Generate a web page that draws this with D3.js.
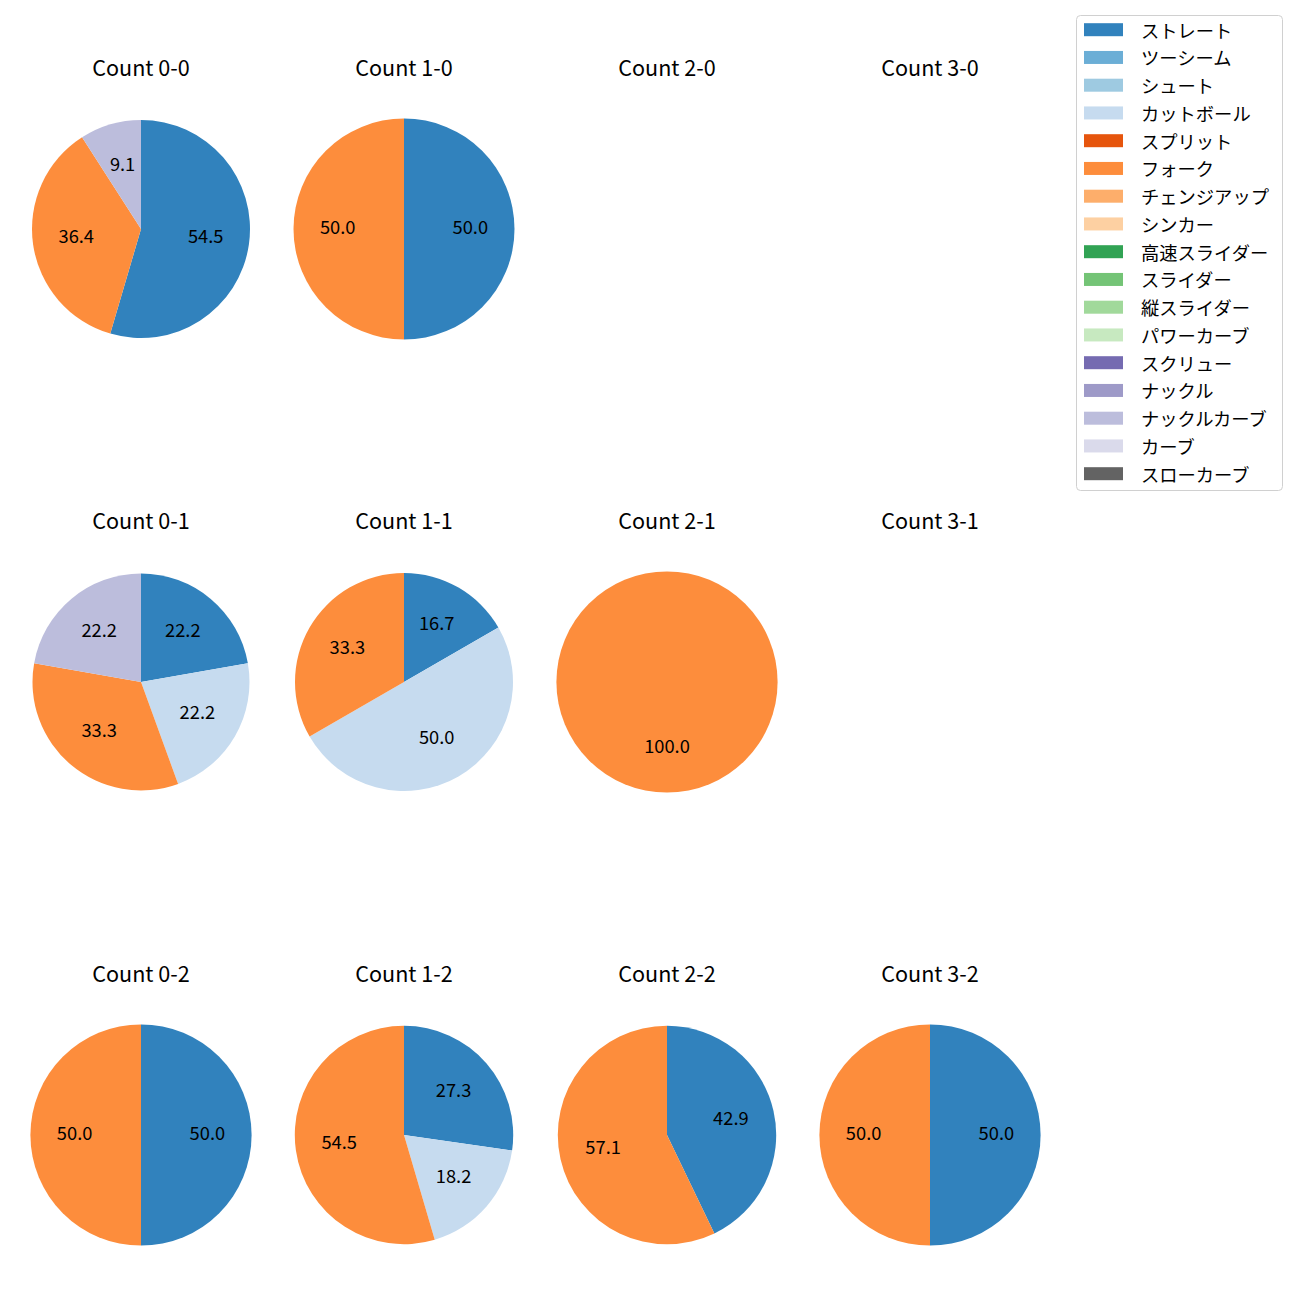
<!DOCTYPE html>
<html><head><meta charset="utf-8">
<script src="https://cdn.jsdelivr.net/npm/d3@7"></script>
<style>
html,body{margin:0;padding:0;background:#fff;}
svg{display:block;}
text{font-family:"Noto Sans CJK JP","Noto Sans",sans-serif;fill:#000;}
</style></head>
<body>
<svg id="chart" width="1300" height="1300"></svg>
<script>
const pitchTypes = ["ストレート","ツーシーム","シュート","カットボール","スプリット","フォーク","チェンジアップ","シンカー","高速スライダー","スライダー","縦スライダー","パワーカーブ","スクリュー","ナックル","ナックルカーブ","カーブ","スローカーブ"];
const pitchColors = ["#3182bd","#6baed6","#9ecae1","#c6dbef","#e6550d","#fd8d3c","#fdae6b","#fdd0a2","#31a354","#74c476","#a1d99b","#c7e9c0","#756bb1","#9e9ac8","#bcbddc","#dadaeb","#636363"];
const countTitles = ["Count 0-0","Count 1-0","Count 2-0","Count 3-0","Count 0-1","Count 1-1","Count 2-1","Count 3-1","Count 0-2","Count 1-2","Count 2-2","Count 3-2"];
// pitch counts per count situation (others zero)
const straight     = [6,1,0,0, 2,1,0,0, 1,3,3,1];
const cutter       = [0,0,0,0, 2,3,0,0, 0,2,0,0];
const fork         = [4,1,0,0, 3,2,1,0, 1,6,4,1];
const knuckleCurve = [1,0,0,0, 2,0,0,0, 0,0,0,0];

// layout
const colX = [141,404,667,930];
const rowY = [229,682,1135];
const pieR = [109,110.5,110,110, 108.5,109,110.6,110, 110.6,109.2,109.2,110.6];

const svg = d3.select("#chart");
const color = d3.scaleOrdinal().domain(pitchTypes).range(pitchColors);
const pie = d3.pie().sort(null).value(d=>d.v).startAngle(0).endAngle(2*Math.PI);

countTitles.forEach((title,i)=>{
  const cx = colX[i%4], cy = rowY[Math.floor(i/4)];
  const R = pieR[i];
  const arc = d3.arc().innerRadius(0).outerRadius(R);
  const labelArc = d3.arc().innerRadius(R*0.6).outerRadius(R*0.6);
  const g = svg.append("g").attr("transform",`translate(${cx},${cy})`);
  g.append("text").attr("x",0).attr("y",-152.8).attr("text-anchor","middle")
    .style("font-size","21.6px").text(title);
  const vals = pitchTypes.map(p=>({p,v:0}));
  vals[0].v = straight[i]; vals[3].v = cutter[i]; vals[5].v = fork[i]; vals[14].v = knuckleCurve[i];
  const data = vals.filter(d=>d.v>0);
  const total = d3.sum(data,d=>d.v);
  if(total===0) return;
  const arcs = pie(data);
  g.selectAll("path.w").data(arcs).join("path").attr("class","w")
    .attr("d",arc).attr("fill",d=>color(d.data.p));
  g.selectAll("text.l").data(arcs).join("text").attr("class","l")
    .attr("transform",d=>{const c=labelArc.centroid(d);return `translate(${c[0]},${c[1]+4.9})`;})
    .attr("text-anchor","middle")
    .style("font-size","18.3px")
    .text(d=>(d.data.v/total*100).toFixed(1));
});

// legend
const lg = svg.append("g");
lg.append("rect").attr("x",1076.5).attr("y",15.5).attr("width",206).attr("height",475)
  .attr("rx",4).attr("fill","#fff").attr("stroke","#d0d0d0").attr("stroke-width",1);
pitchTypes.forEach((p,i)=>{
  const y = 29.7 + i*27.75;
  lg.append("rect").attr("x",1084).attr("y",y-6.5).attr("width",39).attr("height",13).attr("fill",color(p));
  lg.append("text").attr("x",1141).attr("y",y).attr("dominant-baseline","central")
    .style("font-size","18.3px").text(p);
});
</script>
</body></html>
